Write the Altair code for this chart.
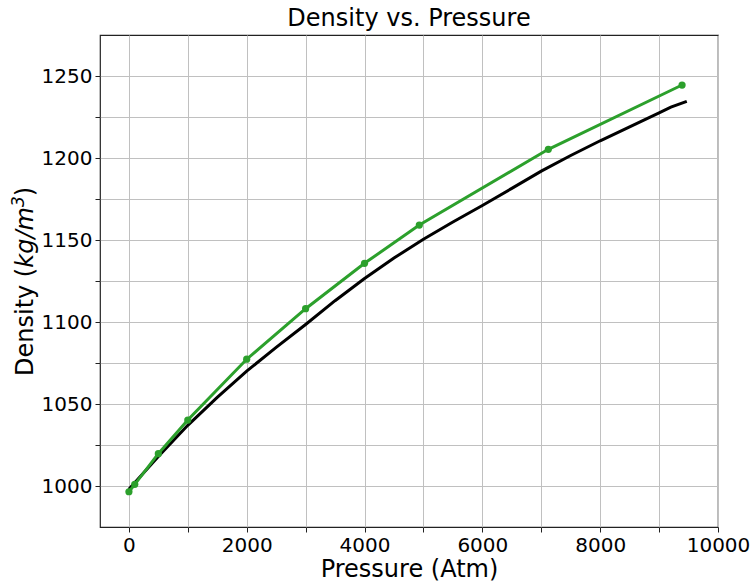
import altair as alt
import pandas as pd

# Reference curve (black)
ref_p = [0, 500, 1000, 1500, 2000, 2500, 3000, 3500, 4000, 4500, 5000, 5500,
         6000, 6500, 7000, 7500, 8000, 8500, 9000, 9200, 9470]
ref_d = [998, 1018, 1037, 1054, 1070, 1084.5, 1098.5, 1113, 1126.5, 1139, 1150.5, 1161,
         1171, 1181.5, 1192, 1201.5, 1210.5, 1219, 1227.5, 1231, 1234.5]

# Measured points (green)
meas_p = [1, 100, 500, 1000, 2000, 3000, 4000, 4930, 7120, 9390]
meas_d = [996.5, 1001, 1019.7, 1040.2, 1077.3, 1108.1, 1135.8, 1159.1, 1205.3, 1244.5]

x_ticks = list(range(0, 10001, 1000))
y_ticks = [1000 + 25 * i for i in range(11)]

# y-axis title pieces: text, style, font size
ytitle_text = ["Density (", "kg/m", "3", ")"]
ytitle_style = ["normal", "italic", "italic", "normal"]
ytitle_size = [24, 24, 17, 24]

ref_df = pd.DataFrame({"p": ref_p, "d": ref_d})
meas_df = pd.DataFrame({"p": meas_p, "d": meas_d})

xenc = alt.X("p:Q", scale=alt.Scale(domain=[-490, 10000], nice=False, zero=False),
             axis=alt.Axis(values=x_ticks, format="d", title="Pressure (Atm)",
                           labelExpr="datum.value % 2000 == 0 ? datum.label : ''",
                           labelFlush=False, labelOverlap=False, titlePadding=2))
yenc = alt.Y("d:Q", scale=alt.Scale(domain=[975, 1275], nice=False, zero=False),
             axis=alt.Axis(values=y_ticks, format="d", title=None,
                           labelExpr="datum.value % 50 == 0 ? datum.label : ''",
                           labelFlush=False, labelOverlap=False))

black = alt.Chart(ref_df).mark_line(color="black", strokeWidth=3).encode(x=xenc, y=yenc)
green_line = alt.Chart(meas_df).mark_line(color="#2ca02c", strokeWidth=3).encode(x=xenc, y=yenc)
green_pts = alt.Chart(meas_df).mark_circle(color="#2ca02c", size=52, opacity=1).encode(x=xenc, y=yenc)

# rotated y title made of pieces
base_x = -67   # relative to plot left (px)
y0 = 341       # bottom of the title text, relative to plot top
layers = []
cur_y = y0
widths = [108.3, 60.6, 10.8, 9.4]
offsets_x = [0, 0, -9, 0]
for t, st, fs, w, ox in zip(ytitle_text, ytitle_style, ytitle_size, widths, offsets_x):
    layers.append(
        alt.Chart(pd.DataFrame({"t": [t]})).mark_text(
            font="DejaVu Sans", fontSize=fs, fontStyle=st, angle=270,
            align="left", baseline="alphabetic", color="black"
        ).encode(text="t:N", x=alt.value(base_x + ox), y=alt.value(cur_y))
    )
    cur_y -= w

chart = alt.layer(black, green_line, green_pts, *layers).properties(
    width=618, height=492,
    title=alt.TitleParams("Density vs. Pressure", font="DejaVu Sans", fontSize=24,
                          fontWeight="normal", color="black", offset=4),
    padding={"left": 100, "top": 35, "right": 34, "bottom": 58},
    autosize=alt.AutoSizeParams(type="none"),
    background="white",
).configure_view(
    stroke="#222222", strokeWidth=1.2
).configure_axis(
    domain=False, grid=True, gridColor="#c0c0c0", gridWidth=1,
    tickColor="#222222", tickSize=5, tickWidth=1,
    labelFont="DejaVu Sans", labelFontSize=20, labelColor="black", labelPadding=3,
    titleFont="DejaVu Sans", titleFontSize=24, titleFontWeight="normal", titleColor="black",
)

chart.save("out.html", embed_options={"renderer": "svg", "actions": False})
